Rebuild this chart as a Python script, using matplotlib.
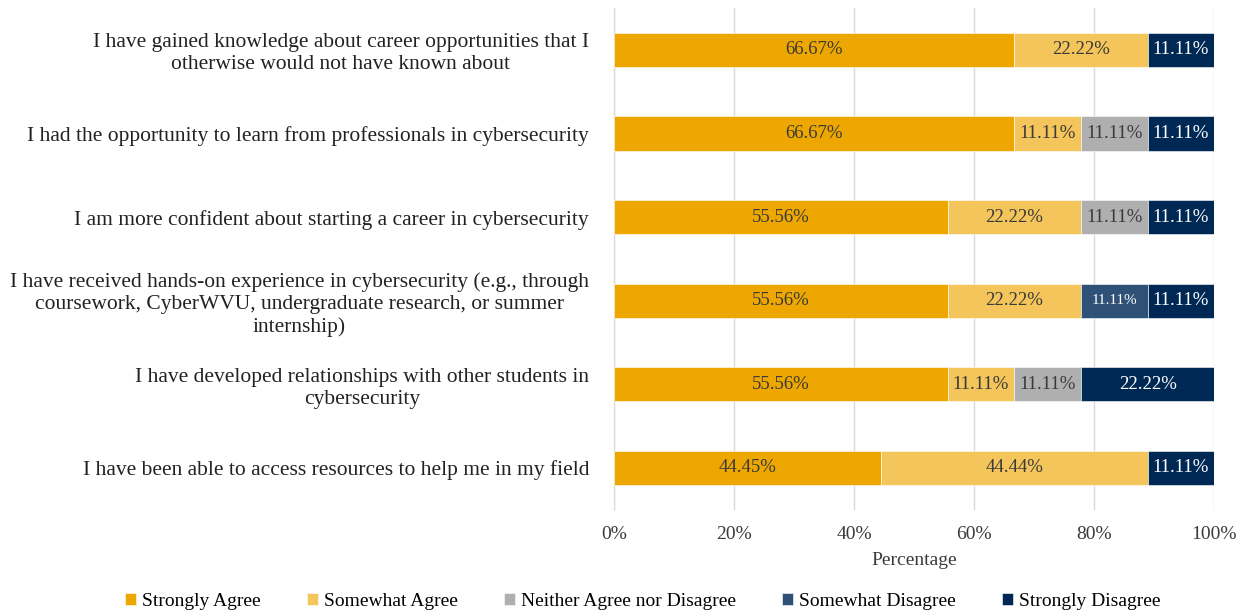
import numpy as np
import matplotlib.pyplot as plt

plt.rcParams['font.family'] = ['Liberation Serif', 'DejaVu Serif']

statements = [
    "I have gained knowledge about career opportunities that I\notherwise would not have known about",
    "I had the opportunity to learn from professionals in cybersecurity",
    "I am more confident about starting a career in cybersecurity",
    "I have received hands-on experience in cybersecurity (e.g., through\ncoursework, CyberWVU, undergraduate research, or summer\ninternship)",
    "I have developed relationships with other students in\ncybersecurity",
    "I have been able to access resources to help me in my field",
]
levels = ["Strongly Agree", "Somewhat Agree", "Neither Agree nor Disagree",
          "Somewhat Disagree", "Strongly Disagree"]
strongly_agree = [66.67, 66.67, 55.56, 55.56, 55.56, 44.45]
somewhat_agree = [22.22, 11.11, 22.22, 22.22, 11.11, 44.44]
neither = [0, 11.11, 11.11, 0, 11.11, 0]
somewhat_disagree = [0, 0, 0, 11.11, 0, 0]
strongly_disagree = [11.11, 11.11, 11.11, 11.11, 22.22, 11.11]

series = [strongly_agree, somewhat_agree, neither, somewhat_disagree, strongly_disagree]
colors = ['#EDA700', '#F4C55A', '#AFAFAF', '#2F5077', '#002855']
text_colors = ['#3a3a3a', '#3a3a3a', '#3a3a3a', 'white', 'white']

fig = plt.figure(figsize=(12.48, 6.12), dpi=100)
ax = fig.add_axes([0.492, 0.167, 0.481, 0.82])

y = np.arange(len(statements))
left = np.zeros(len(statements))
for vals, col, tc, name in zip(series, colors, text_colors, levels):
    vals = np.array(vals)
    bars = ax.barh(y, vals, left=left, height=0.41, color=col, label=name,
                   edgecolor='white', linewidth=0.4, zorder=3)
    for b, v in zip(bars, vals):
        if v > 0:
            fs = 11 if name == "Somewhat Disagree" else 13.5
            ax.text(b.get_x() + b.get_width() / 2, b.get_y() + b.get_height() / 2,
                    f"{v:.2f}%", ha='center', va='center', color=tc,
                    fontsize=fs, zorder=4)
    left += vals

ax.set_xlim(0, 100)
ax.set_ylim(len(statements) - 0.5, -0.5)
ax.set_yticks(y)
ax.set_yticklabels(statements, fontsize=15.5, ha='right', multialignment='center',
                   color='#222222')
ax.tick_params(axis='y', length=0, pad=18)
ax.set_xticks(np.arange(0, 101, 20))
ax.set_xticklabels([f"{t}%" for t in range(0, 101, 20)], fontsize=14, color='#3a3a3a')
ax.tick_params(axis='x', length=0, pad=12)
ax.grid(axis='x', color='#D9D9D9', linewidth=1, zorder=0)
for s in ['top', 'right', 'bottom']:
    ax.spines[s].set_visible(False)
ax.spines['left'].set_color('#D9D9D9')
ax.set_xlabel("Percentage", fontsize=14, color='#3a3a3a', labelpad=6)

fig.legend(loc='lower center', bbox_to_anchor=(0.515, -0.025), ncol=5, frameon=False,
           fontsize=14, handlelength=0.55, handleheight=0.55, handletextpad=0.3,
           columnspacing=2.4)

fig.savefig('out.png', dpi=100)
